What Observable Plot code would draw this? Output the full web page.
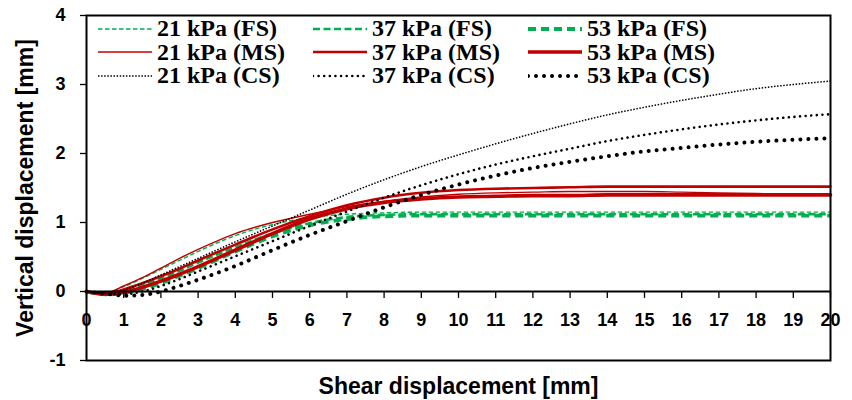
<!DOCTYPE html>
<html>
<head>
<meta charset="utf-8">
<script src="https://cdn.jsdelivr.net/npm/d3@7"></script>
<script src="https://cdn.jsdelivr.net/npm/@observablehq/plot@0.6"></script>
<style>
  html, body { margin: 0; padding: 0; background: #fff; }
  #wrap { position: relative; width: 852px; height: 400px; }
  #legend {
    position: absolute; left: 98px; top: 17px;
    display: grid; grid-template-columns: repeat(3, 215px); grid-auto-rows: 23.5px;
    font: bold 24px "Liberation Serif", "Times New Roman", serif; color: #000;
  }
  #legend .item { display: flex; align-items: center; white-space: nowrap; line-height: 23.5px; }
  #legend svg { width: 54px; height: 10px; margin-right: 5px; flex: none; }
</style>
</head>
<body>
<div id="wrap"><div id="chart"></div><div id="legend"></div></div>
<script>
// Shear displacement grid [mm]
const xs = [0, 0.5, 1, 1.5, 2, 2.5, 3, 4, 5, 6, 7, 8, 9, 10, 11, 12, 13, 14, 15, 16, 17, 18, 19, 20];

// Vertical displacement [mm] per test
const fs21 = [0, -0.02, 0.07, 0.19, 0.32, 0.45, 0.58, 0.81, 0.97, 1.07, 1.12, 1.14, 1.15, 1.15, 1.15, 1.15, 1.15, 1.15, 1.15, 1.15, 1.15, 1.15, 1.15, 1.15];
const fs37 = [0, -0.03, 0.01, 0.09, 0.19, 0.30, 0.42, 0.64, 0.84, 0.99, 1.08, 1.11, 1.12, 1.12, 1.12, 1.12, 1.12, 1.12, 1.12, 1.12, 1.12, 1.12, 1.12, 1.12];
const fs53 = [0, -0.04, -0.02, 0.04, 0.12, 0.23, 0.34, 0.58, 0.80, 0.96, 1.05, 1.09, 1.10, 1.10, 1.10, 1.10, 1.10, 1.10, 1.10, 1.10, 1.10, 1.10, 1.10, 1.10];

const ms21 = [0, -0.02, 0.08, 0.20, 0.34, 0.48, 0.61, 0.84, 1.00, 1.12, 1.23, 1.31, 1.37, 1.41, 1.43, 1.44, 1.45, 1.45, 1.45, 1.44, 1.43, 1.42, 1.41, 1.41];
const ms37 = [0, -0.03, 0.03, 0.12, 0.22, 0.33, 0.45, 0.68, 0.90, 1.09, 1.25, 1.36, 1.43, 1.47, 1.49, 1.50, 1.51, 1.52, 1.52, 1.52, 1.52, 1.52, 1.52, 1.52];
const ms53 = [0, -0.04, -0.01, 0.06, 0.15, 0.25, 0.36, 0.60, 0.84, 1.05, 1.20, 1.29, 1.34, 1.37, 1.38, 1.39, 1.39, 1.40, 1.40, 1.40, 1.40, 1.40, 1.40, 1.40];

const cs21 = [0, -0.03, 0.02, 0.12, 0.24, 0.36, 0.48, 0.72, 0.95, 1.18, 1.41, 1.62, 1.81, 1.98, 2.14, 2.29, 2.43, 2.56, 2.67, 2.77, 2.86, 2.94, 3.00, 3.05];
const cs37 = [0, -0.03, -0.04, 0.00, 0.08, 0.18, 0.29, 0.51, 0.73, 0.95, 1.16, 1.36, 1.54, 1.70, 1.84, 1.96, 2.07, 2.18, 2.27, 2.35, 2.42, 2.48, 2.53, 2.57];
const cs53 = [0, -0.03, -0.06, -0.05, 0.00, 0.08, 0.17, 0.37, 0.60, 0.82, 1.02, 1.22, 1.40, 1.55, 1.68, 1.79, 1.88, 1.96, 2.03, 2.08, 2.13, 2.17, 2.20, 2.22];

const seriesNames = ["21 kPa (FS)", "37 kPa (FS)", "53 kPa (FS)",
                     "21 kPa (MS)", "37 kPa (MS)", "53 kPa (MS)",
                     "21 kPa (CS)", "37 kPa (CS)", "53 kPa (CS)"];
const seriesValues = [fs21, fs37, fs53, ms21, ms37, ms53, cs21, cs37, cs53];

const xTicks = [0, 1, 2, 3, 4, 5, 6, 7, 8, 9, 10, 11, 12, 13, 14, 15, 16, 17, 18, 19, 20];
const yTicks = [-1, 0, 1, 2, 3, 4];

const GREEN = "#00B050", RED = "#C00000", BLACK = "#000000";
const styles = [
  {stroke: GREEN, strokeWidth: 1.4, strokeDasharray: "4.5,2.5", strokeLinecap: "butt"},
  {stroke: GREEN, strokeWidth: 2.6, strokeDasharray: "7,3.5", strokeLinecap: "butt"},
  {stroke: GREEN, strokeWidth: 3.8, strokeDasharray: "8,5", strokeLinecap: "butt"},
  {stroke: RED, strokeWidth: 1.4},
  {stroke: RED, strokeWidth: 2.6},
  {stroke: RED, strokeWidth: 3.6},
  {stroke: BLACK, strokeWidth: 1.5, strokeDasharray: "1.5,1.6", strokeLinecap: "butt"},
  {stroke: BLACK, strokeWidth: 2.6, strokeDasharray: "0.01,5.6", strokeLinecap: "round"},
  {stroke: BLACK, strokeWidth: 4, strokeDasharray: "0.01,8", strokeLinecap: "round"}
];

const rows = seriesNames.map((name, i) => xs.map((x, j) => ({series: name, x, y: seriesValues[i][j]})));

const lineMarks = rows.map((r, i) => Plot.line(r, {x: "x", y: "y", curve: "monotone-x", ...styles[i]}));

const chart = Plot.plot({
  width: 852,
  height: 400,
  marginLeft: 86,
  marginRight: 22,
  marginTop: 15,
  marginBottom: 40,
  style: {fontFamily: "'Liberation Sans', Arial, sans-serif", fontWeight: "bold", fontSize: "18px", color: "#000", background: "#fff"},
  x: {domain: [0, 20], axis: null},
  y: {domain: [-1, 4], axis: null},
  marks: [
    ...lineMarks,
    Plot.ruleY([0], {stroke: "#000", strokeWidth: 2}),
    Plot.ruleX(xTicks, {x: d => d, y1: 0, y2: -0.1, stroke: "#000", strokeWidth: 1.3}),
    Plot.text(xTicks, {x: d => d, y: 0, dy: 29, text: d => String(d), fontSize: 18, fontWeight: "bold", fill: "#000", lineAnchor: "middle"}),
    Plot.axisY(yTicks, {anchor: "left", tickSize: 6, tickPadding: 15, tickFormat: d => String(d), fontSize: 18, fontWeight: "bold", label: null, stroke: "#000", strokeWidth: 1.3}),
    Plot.frame({stroke: "#000", strokeWidth: 2}),
    Plot.text(["Shear displacement [mm]"], {frameAnchor: "bottom", dy: 26, lineAnchor: "middle", textAnchor: "middle", fontSize: 23, fontWeight: "bold", fill: "#000"}),
    Plot.text(["Vertical displacement [mm]"], {frameAnchor: "left", dx: -61, rotate: -90, lineAnchor: "middle", textAnchor: "middle", fontSize: 23, fontWeight: "bold", fill: "#000"})
  ]
});
document.getElementById("chart").appendChild(chart);

// Legend: 3 rows (FS, MS, CS) x 3 columns (21, 37, 53 kPa)
const legend = document.getElementById("legend");
seriesNames.forEach((name, i) => {
  const s = styles[i];
  const item = document.createElement("div");
  item.className = "item";
  item.style.gridRow = String(Math.floor(i / 3) + 1);
  item.style.gridColumn = String((i % 3) + 1);
  item.innerHTML =
    `<svg viewBox="0 0 54 10"><line x1="0" y1="5" x2="54" y2="5" stroke="${s.stroke}" stroke-width="${s.strokeWidth}"` +
    (s.strokeDasharray ? ` stroke-dasharray="${s.strokeDasharray}"` : "") +
    ` stroke-linecap="${s.strokeLinecap || "butt"}"/></svg><span>${name}</span>`;
  legend.appendChild(item);
});
</script>
</body>
</html>
